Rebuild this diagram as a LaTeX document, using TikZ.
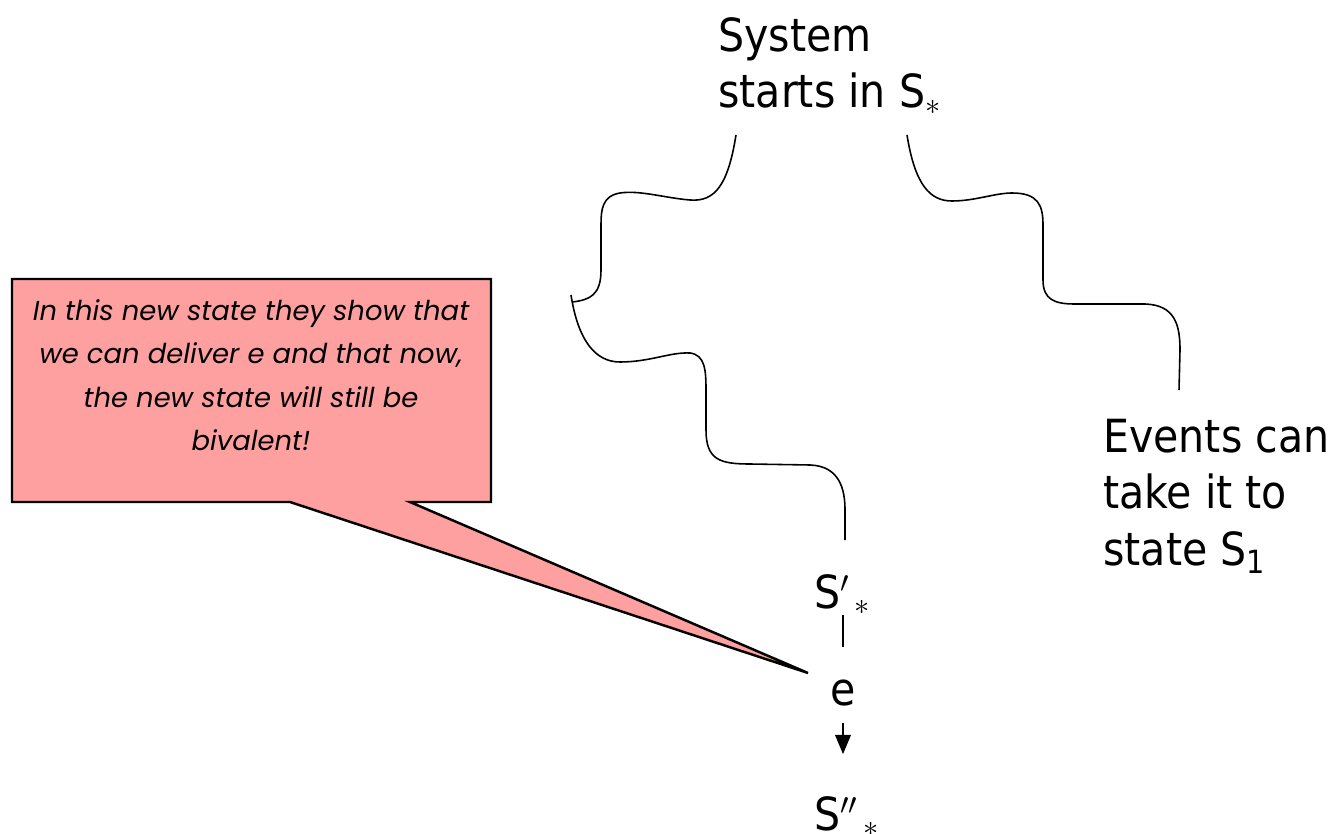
\documentclass[tikz,border=0pt]{standalone}
\usepackage{fontspec}
\setmainfont{DejaVu Sans Condensed}
\newfontfamily\notefont{Poppins}
\usetikzlibrary{positioning}
\usetikzlibrary{arrows.meta}
\definecolor{notepink}{RGB}{255,160,160}

\begin{document}
\begin{tikzpicture}[x=0.02cm, y=-0.02cm,
		wavy/.style={line width=0.9pt},
		bigtext/.style={inner sep=0pt, align=left, font=\fontsize{26}{32}\selectfont},
		statelbl/.style={inner sep=0pt, font=\fontsize{26}{32}\selectfont}]
	\useasboundingbox (0,0) rectangle (1335,834);

	% labels
	\node (sys) [bigtext, anchor=north west] at (718,17) {System\\starts in S$_{*}$};
	\node (events) [bigtext, anchor=north west] at (1103,419) {Events can\\take it to\\state S\textsubscript{1}};
	\node (sp) [statelbl, anchor=base west, text depth=4pt] at (814,608) {S$'{}_{\,\ast}$};
	\node (e) [statelbl, anchor=base, text height=33pt, text depth=10pt] at (843,705) {e};
	\node (spp) [statelbl, anchor=base west, text height=43pt] at (814,830) {S$''{}_{\,\ast}$};

	\coordinate (sysL) at (736,135);
	\coordinate (sysR) at (907,135);
	\coordinate (spTop) at (845,540);
	\coordinate (evTop) at (1179,390);
	\coordinate (tip) at (808,673);

	% callout
	\draw[line width=1.4pt, fill=notepink] (12,279) -- (491,279) -- (491,502) -- (410,502)
		-- (tip) -- (290,502) -- (12,502) -- cycle;
	\node (note) [anchor=north, inner sep=0pt, align=center,
		font=\notefont\itshape\fontsize{15.6}{24.8}\selectfont] at (251,299)
		{In this new state they show that\\we can deliver e and that now,\\the new state will still be\\bivalent!};

	% left brace
	\draw[wavy] (sysL) .. controls (728,185) and (715,202) .. (690,200)
		.. controls (665,198) and (640,190) .. (620,193)
		.. controls (602,196) and (601,210) .. (601,225) -- (601,270)
		.. controls (601,295) and (590,300) .. (572,302);
	\draw[wavy] (571,295) .. controls (578,340) and (595,362) .. (620,362)
		.. controls (650,362) and (670,352) .. (690,353)
		.. controls (705,355) and (706,370) .. (706,390) -- (706,430)
		.. controls (706,460) and (720,464) .. (750,464) -- (810,465)
		.. controls (840,466) and (845,490) .. (845,510) -- (spTop);

	% right curve
	\draw[wavy] (sysR) .. controls (915,185) and (930,201) .. (952,201)
		.. controls (975,201) and (995,193) .. (1012,193)
		.. controls (1038,193) and (1043,205) .. (1043,225) -- (1043,280)
		.. controls (1043,300) and (1055,304) .. (1075,304) -- (1145,304)
		.. controls (1175,305) and (1180,325) .. (1180,350) -- (evTop);

	% S' -- e -> S''
	\draw[line width=0.8pt] (e.north |- sp.south) -- (e.north);
	\draw[line width=0.8pt, -{Triangle[length=11pt, width=9pt]}] (e.south) -- (e.south |- spp.north);
\end{tikzpicture}
\end{document}
